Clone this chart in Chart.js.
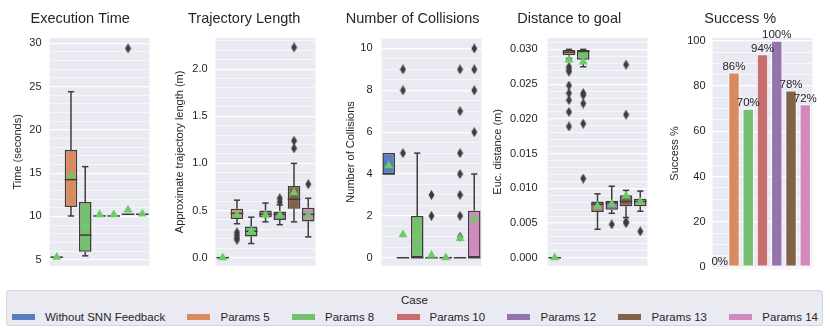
<!DOCTYPE html>
<html>
<head>
<meta charset="utf-8">
<script src="https://cdn.jsdelivr.net/npm/chart.js@4.4.1/dist/chart.umd.min.js"></script>
<style>
body { margin:0; background:#fff; width:830px; height:332px; position:relative; overflow:hidden; font-family:"Liberation Sans", Arial, sans-serif; color:#262626; }
canvas { position:absolute; top:0; }
#legend { position:absolute; left:6px; top:290px; width:815px; height:34px; background:#eaeaf2; border:1px solid #d4d4dc; border-radius:3px; }
#legend .lt { position:absolute; left:0; right:0; top:2px; text-align:center; font-size:11.5px; line-height:14px; }
#legend .li { position:absolute; left:5px; right:4px; top:19px; display:flex; justify-content:space-between; font-size:11.5px; line-height:14px; }
#legend .it { display:flex; align-items:center; }
#legend .sw { width:23px; height:6px; margin-right:10px; }
</style>
</head>
<body>
<canvas id="c1"></canvas>
<canvas id="c2"></canvas>
<canvas id="c3"></canvas>
<canvas id="c4"></canvas>
<canvas id="c5"></canvas>
<div id="legend"><div class="lt">Case</div><div class="li" id="items"></div></div>
<script>
var cases = ['Without SNN Feedback', 'Params 5', 'Params 8', 'Params 10', 'Params 12', 'Params 13', 'Params 14'];

// Execution Time (seconds)
var timeLow  = [5.3, 10.05, 5.45, 10.05, 10.05, 10.25, 10.25];
var timeQ1   = [5.3, 11.1, 5.93, 10.05, 10.05, 10.25, 10.25];
var timeMed  = [5.3, 14.25, 7.85, 10.05, 10.05, 10.25, 10.25];
var timeQ3   = [5.3, 17.68, 11.67, 10.05, 10.05, 10.25, 10.25];
var timeHigh = [5.3, 24.4, 15.75, 10.05, 10.05, 10.25, 10.25];
var timeMean = [5.3, 14.7, 8.96, 10.2, 10.2, 10.74, 10.3];
var timeOut  = [[], [], [], [], [], [29.4], []];

// Trajectory Length (m)
var trajLow  = [0, 0.36, 0.15, 0.38, 0.35, 0.38, 0.22];
var trajQ1   = [0, 0.41, 0.225, 0.43, 0.40, 0.52, 0.385];
var trajMed  = [0, 0.47, 0.28, 0.46, 0.46, 0.62, 0.46];
var trajQ3   = [0, 0.52, 0.33, 0.50, 0.49, 0.76, 0.53];
var trajHigh = [0, 0.61, 0.43, 0.58, 0.56, 1.0, 0.63];
var trajMean = [0, 0.45, 0.28, 0.45, 0.45, 0.69, 0.45];
var trajOut  = [[], [0.27, 0.24, 0.21, 0.19], [], [], [0.63, 0.59], [1.16, 1.24, 2.23], [0.78]];

// Number of Collisions
var colLow  = [4, 0, 0, 0, 0, 0, 0];
var colQ1   = [4, 0, 0, 0, 0, 0, 0];
var colMed  = [4, 0, 0, 0, 0, 0, 0];
var colQ3   = [5, 0, 2, 0, 0, 0, 2.25];
var colHigh = [5, 0, 5, 0, 0, 0, 4];
var colMean = [4.4, 1.1, 1.05, 0.12, 0, 0.92, 1.85];
var colOut  = [[], [5, 8, 9], [], [2, 3], [], [1, 2, 3, 4, 5, 7, 9], [6, 8, 9, 10]];

// Distance to goal (m)
var distLow  = [0, 0.0287, 0.0275, 0.0041, 0.0064, 0.0058, 0.0067];
var distQ1   = [0, 0.0292, 0.0285, 0.0066, 0.0069, 0.0074, 0.0074];
var distMed  = [0, 0.0296, 0.0297, 0.0077, 0.0079, 0.0081, 0.0081];
var distQ3   = [0, 0.0299, 0.0299, 0.0081, 0.0082, 0.0090, 0.0085];
var distHigh = [0, 0.0300, 0.0300, 0.0092, 0.0103, 0.0097, 0.0096];
var distMean = [0, 0.0285, 0.0282, 0.0074, 0.0077, 0.0089, 0.0080];
var distOut  = [[], [0.0275, 0.0271, 0.0268, 0.0248, 0.0237, 0.0227, 0.021, 0.0189],
                [0.0237, 0.0234, 0.0222, 0.0193, 0.0114], [], [0.0048], [0.0278, 0.0206, 0.0052, 0.0050], [0.0038]];

// Success %
var successPct = [0, 86, 70, 94, 100, 78, 72];

var palette = ['#597dbf', '#d98b5f', '#76bf71', '#c76e6e', '#9475ab', '#826246', '#d08abb'];
var edge = '#3d3d3d';
var meanGreen = '#6acc64';
var BOXW = 0.88;

Chart.defaults.font.family = '"Liberation Sans", Arial, sans-serif';
Chart.defaults.color = '#262626';

// thin diamond marker for outliers
var diamond = document.createElement('canvas');
diamond.width = 7; diamond.height = 10;
var dctx = diamond.getContext('2d');
dctx.fillStyle = edge;
dctx.beginPath();
dctx.moveTo(3.5, 0); dctx.lineTo(6.5, 5); dctx.lineTo(3.5, 10); dctx.lineTo(0.5, 5);
dctx.closePath(); dctx.fill();

var bgPlugin = {
  id: 'bg',
  beforeDraw: function(chart){
    var a = chart.chartArea, ctx = chart.ctx;
    ctx.save();
    ctx.fillStyle = '#eaeaf2';
    ctx.fillRect(a.left, a.top, a.right - a.left, a.bottom - a.top);
    ctx.restore();
  }
};

function yAxis(p){
  var isMajor = function(v){ var r = v / p.major; return Math.abs(r - Math.round(r)) < 1e-6; };
  return {
    min: p.min, max: p.max,
    afterFit: function(s){ s.width = p.axisW; s.paddingTop = 0; s.paddingBottom = 0; },
    afterBuildTicks: function(s){
      var t = [];
      for (var k = 0; ; k++) {
        var v = p.from + k * p.minor;
        if (v > p.to + 1e-9) break;
        t.push({value: +v.toFixed(6)});
      }
      s.ticks = t;
    },
    ticks: {
      autoSkip: false, padding: p.gap, font: {size: 11}, color: '#262626',
      callback: function(v){ return isMajor(v) ? Number(v).toFixed(p.dec) : ''; }
    },
    grid: {
      color: '#ffffff', drawTicks: false,
      lineWidth: function(c){ return c.tick && isMajor(c.tick.value) ? 1.2 : 0.6; }
    },
    border: {display: false},
    title: {display: true, text: p.ytitle, font: {size: 11}, color: '#262626', padding: 0}
  };
}

function baseOptions(p){
  return {
    responsive: false, animation: false, events: [],
    // right padding mirrors the axis so the title centres over the plot
    layout: {padding: {left: 0, right: p.axisW, top: 0, bottom: 2}},
    plugins: {
      legend: {display: false},
      tooltip: {enabled: false},
      title: {display: true, text: p.title, color: '#262626',
              font: {size: 14.5, weight: 'normal'}, padding: {top: 10, bottom: 10.6}}
    },
    scales: {
      x: {display: false, offset: true},
      y: yAxis(p)
    }
  };
}

function placeCanvas(id, p){
  var el = document.getElementById(id);
  el.width = Math.round(2 * p.axisW + 100);
  el.height = 271;
  el.style.left = (p.plotLeft - p.axisW) + 'px';
  return el;
}

function whiskerPlugin(st){
  return {
    id: 'whiskers',
    afterDatasetDraw: function(chart, args){
      if (args.index !== 0) return;
      var ctx = chart.ctx, xs = chart.scales.x, ys = chart.scales.y;
      var hw = (xs.getPixelForValue(1) - xs.getPixelForValue(0)) * BOXW / 2;
      var seg = function(x1, y1, x2, y2){ ctx.beginPath(); ctx.moveTo(x1, y1); ctx.lineTo(x2, y2); ctx.stroke(); };
      ctx.save();
      ctx.strokeStyle = edge; ctx.lineWidth = 1.5;
      for (var i = 0; i < cases.length; i++) {
        var cx = xs.getPixelForValue(i);
        if (st.low[i] < st.q1[i]) {
          seg(cx, ys.getPixelForValue(st.low[i]), cx, ys.getPixelForValue(st.q1[i]));
          seg(cx - hw / 2, ys.getPixelForValue(st.low[i]), cx + hw / 2, ys.getPixelForValue(st.low[i]));
        }
        if (st.high[i] > st.q3[i]) {
          seg(cx, ys.getPixelForValue(st.q3[i]), cx, ys.getPixelForValue(st.high[i]));
          seg(cx - hw / 2, ys.getPixelForValue(st.high[i]), cx + hw / 2, ys.getPixelForValue(st.high[i]));
        }
        seg(cx - hw, ys.getPixelForValue(st.med[i]), cx + hw, ys.getPixelForValue(st.med[i]));
      }
      ctx.restore();
    }
  };
}

function boxPanel(id, p, st){
  var el = placeCanvas(id, p);
  var boxes = st.q1.map(function(q, i){ return q === st.q3[i] ? null : [q, st.q3[i]]; });
  var outPts = [];
  st.out.forEach(function(list, i){
    list.forEach(function(v){ outPts.push({x: cases[i], y: v}); });
  });
  return new Chart(el, {
    type: 'bar',
    data: {
      labels: cases,
      datasets: [
        {type: 'bar', data: boxes, backgroundColor: palette, borderColor: edge, borderWidth: 1.5,
         borderSkipped: false, barPercentage: BOXW, categoryPercentage: 1, order: 2},
        {type: 'line', data: outPts, showLine: false, pointStyle: diamond, pointRadius: 4, order: 1, clip: false},
        {type: 'line', data: st.mean, showLine: false, pointStyle: 'triangle', pointRadius: 5.2,
         pointBackgroundColor: meanGreen, pointBorderWidth: 0, order: 0, clip: false}
      ]
    },
    options: baseOptions(p),
    plugins: [bgPlugin, whiskerPlugin(st)]
  });
}

boxPanel('c1',
  {title: 'Execution Time', ytitle: 'Time (seconds)', plotLeft: 50, axisW: 38.6, gap: 8,
   min: 4.3, max: 30.6, from: 5, to: 30, minor: 1, major: 5, dec: 0},
  {low: timeLow, q1: timeQ1, med: timeMed, q3: timeQ3, high: timeHigh, mean: timeMean, out: timeOut});

boxPanel('c2',
  {title: 'Trajectory Length', ytitle: 'Approximate trajectory length (m)', plotLeft: 216, axisW: 42.6, gap: 8,
   min: -0.086, max: 2.33, from: 0, to: 2.3, minor: 0.1, major: 0.5, dec: 1},
  {low: trajLow, q1: trajQ1, med: trajMed, q3: trajQ3, high: trajHigh, mean: trajMean, out: trajOut});

boxPanel('c3',
  {title: 'Number of Collisions', ytitle: 'Number of Collisions', plotLeft: 382, axisW: 37.6, gap: 9,
   min: -0.385, max: 10.5, from: 0, to: 10.5, minor: 0.5, major: 2, dec: 0},
  {low: colLow, q1: colQ1, med: colMed, q3: colQ3, high: colHigh, mean: colMean, out: colOut});

boxPanel('c4',
  {title: 'Distance to goal', ytitle: 'Euc. distance (m)', plotLeft: 548, axisW: 56.6, gap: 10,
   min: -0.00116, max: 0.03164, from: 0, to: 0.031, minor: 0.001, major: 0.005, dec: 3},
  {low: distLow, q1: distQ1, med: distMed, q3: distQ3, high: distHigh, mean: distMean, out: distOut});

/*************** Success % ***************/
var pctLabels = {
  id: 'pctLabels',
  afterDatasetsDraw: function(chart){
    var ctx = chart.ctx, meta = chart.getDatasetMeta(0);
    ctx.save();
    ctx.fillStyle = '#262626';
    ctx.font = '11.5px "Liberation Sans", Arial, sans-serif';
    ctx.textAlign = 'center';
    ctx.textBaseline = 'bottom';
    meta.data.forEach(function(bar, i){
      ctx.fillText(successPct[i] + '%', bar.x, bar.y);
    });
    ctx.restore();
  }
};

var p5 = {title: 'Success %', ytitle: 'Success %', plotLeft: 713, axisW: 44.6, gap: 7,
          min: -0.8, max: 101.2, from: 0, to: 100, minor: 5, major: 20, dec: 0};
var c5 = placeCanvas('c5', p5);
new Chart(c5, {
  type: 'bar',
  data: {
    labels: cases,
    datasets: [{data: successPct, backgroundColor: palette, borderColor: '#ffffff', borderWidth: 1,
                borderSkipped: false, barPercentage: 0.8, categoryPercentage: 1}]
  },
  options: baseOptions(p5),
  plugins: [bgPlugin, pctLabels]
});

// legend
var items = document.getElementById('items');
cases.forEach(function(c, i){
  var it = document.createElement('div');
  it.className = 'it';
  var sw = document.createElement('span');
  sw.className = 'sw';
  sw.style.background = palette[i];
  var tx = document.createElement('span');
  tx.textContent = c;
  it.appendChild(sw);
  it.appendChild(tx);
  items.appendChild(it);
});
</script>
</body>
</html>
